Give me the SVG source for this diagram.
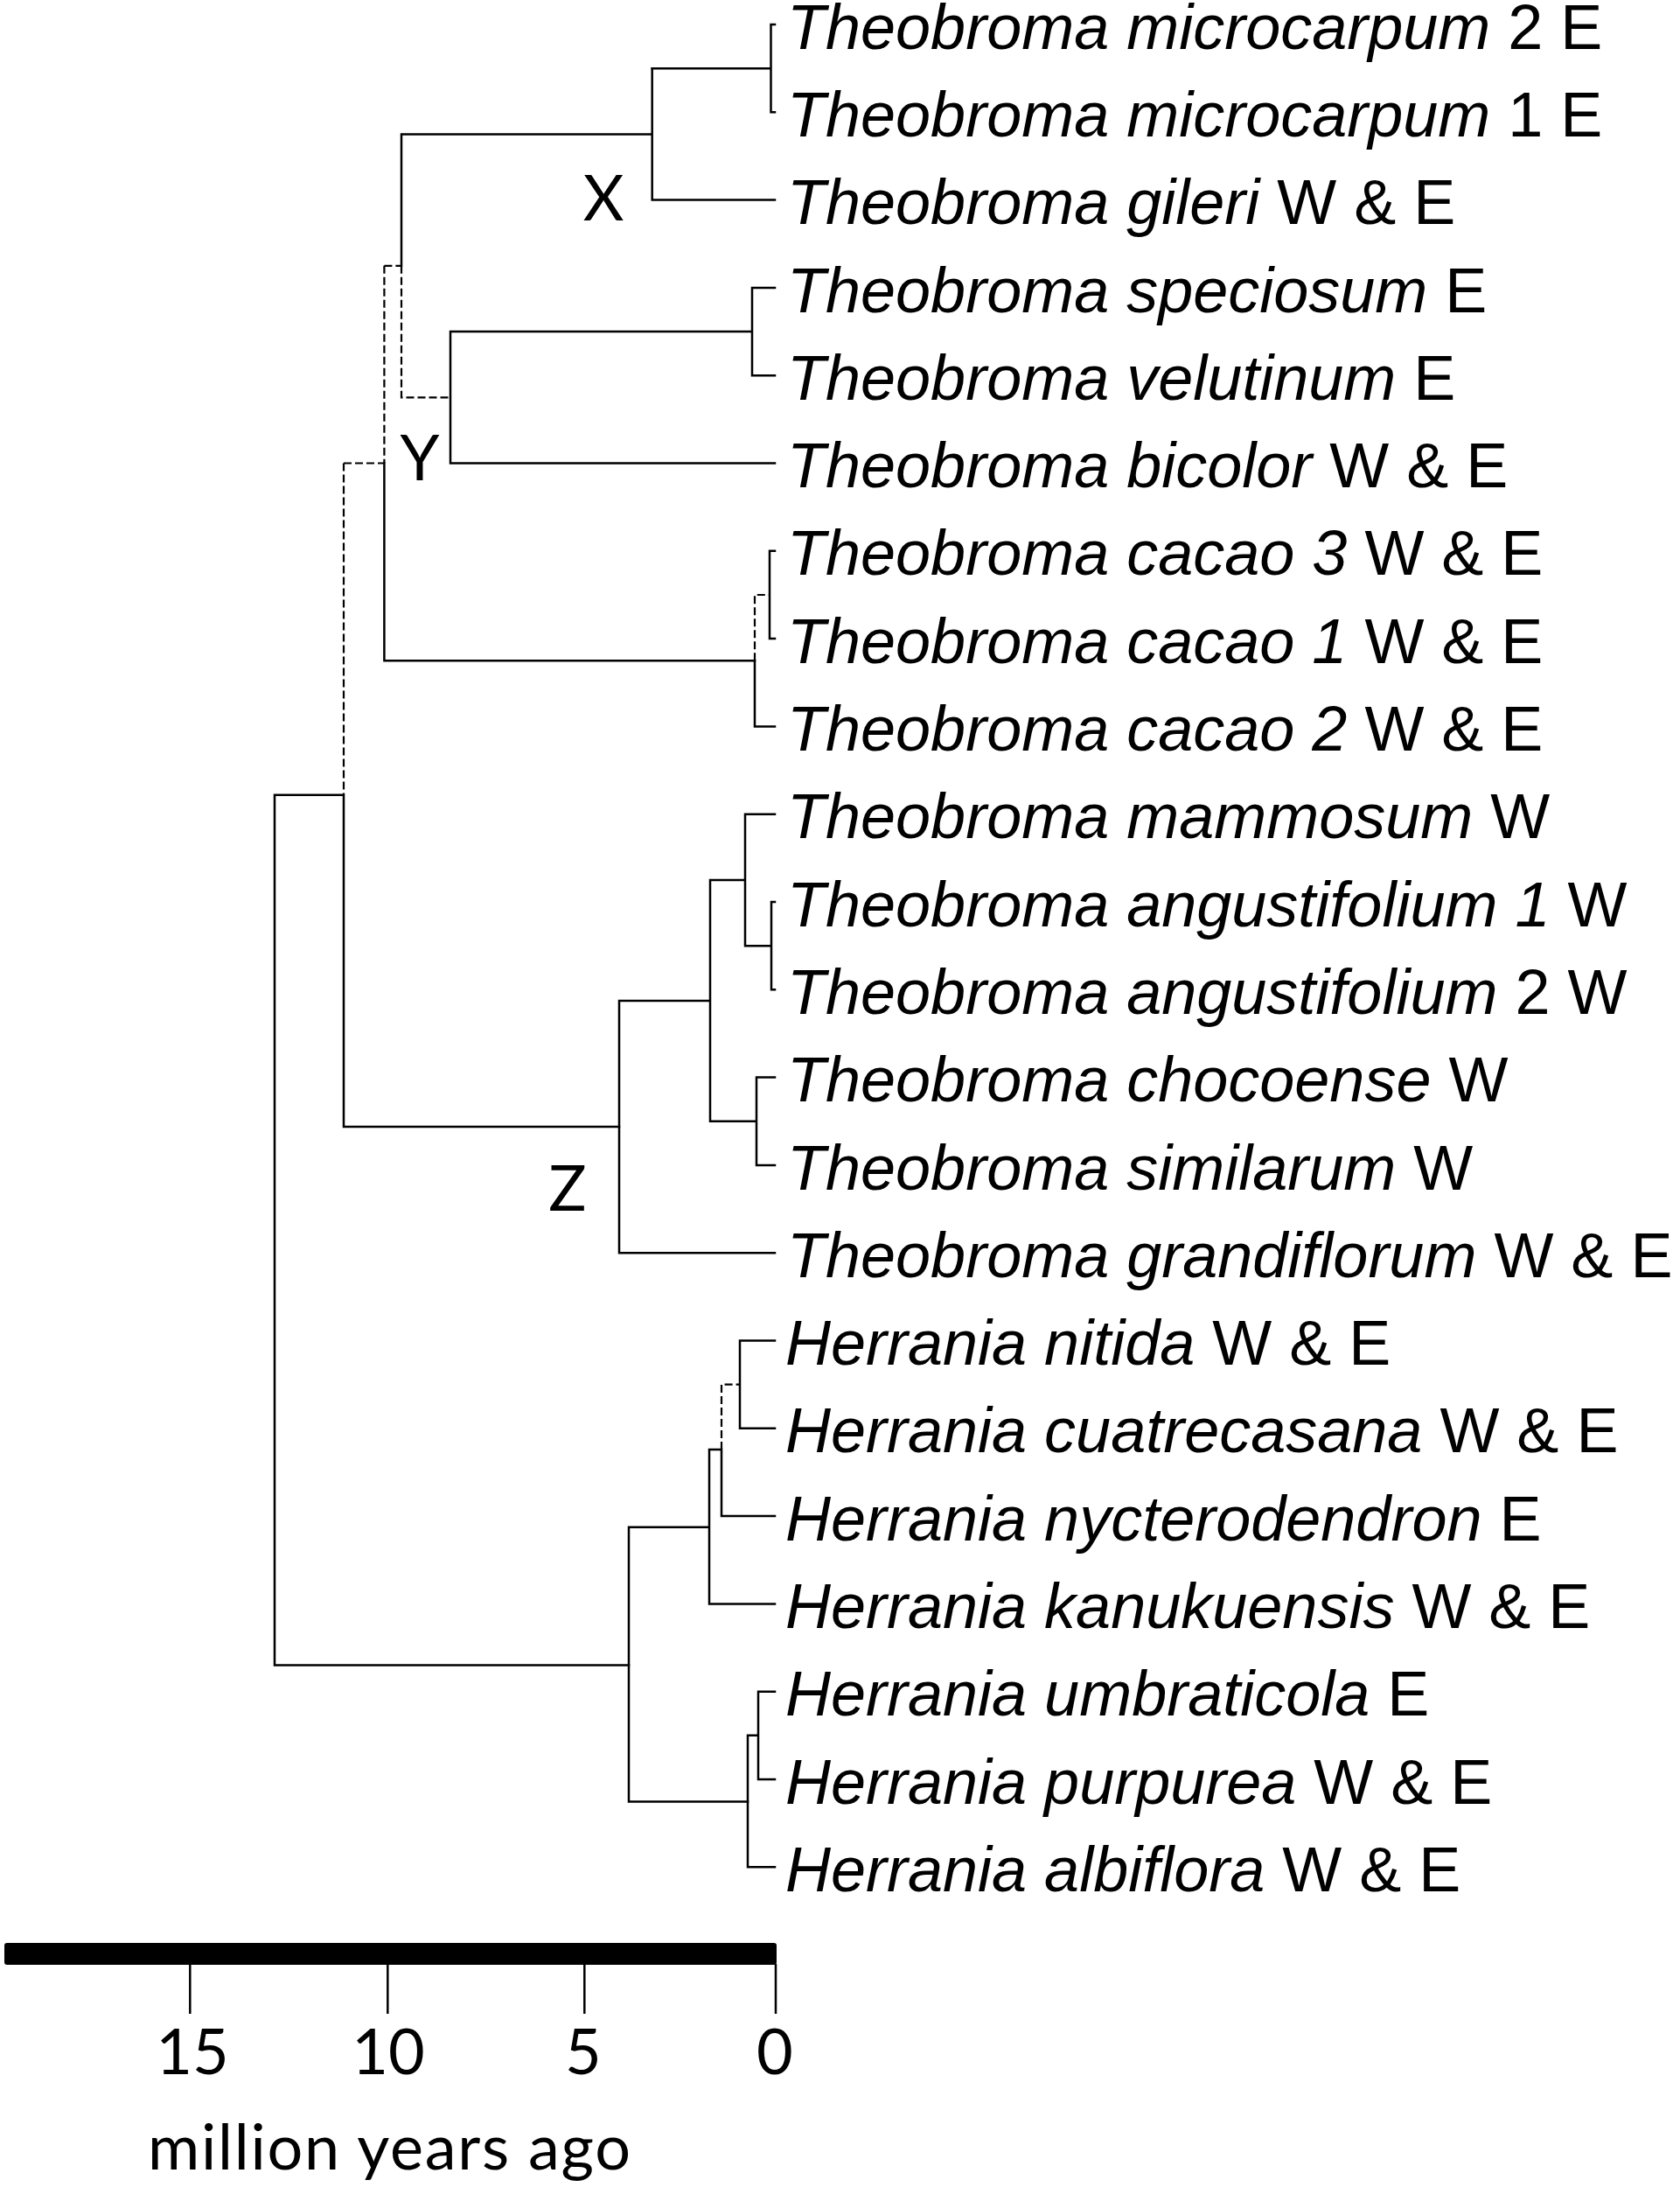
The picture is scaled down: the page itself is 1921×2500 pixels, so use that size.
<svg xmlns="http://www.w3.org/2000/svg" width="1921" height="2500" viewBox="0 0 1921 2500">
<style>
.br{fill:none;stroke:#000;stroke-width:2.5;stroke-linecap:square}
.dbr{fill:none;stroke:#000;stroke-width:2.2;stroke-dasharray:9 4}
.sp{font-family:"Liberation Sans",Arial,sans-serif;font-size:72px;fill:#000}
.i{font-style:italic}
.lab{font-family:Lato,"Open Sans","Liberation Sans",sans-serif;font-size:72px;fill:#000;text-anchor:middle}
.tk{stroke:#000;stroke-width:2.5}
</style>
<rect width="1921" height="2500" fill="#fff"/>
<g id="connectors">
<path class="br" d="M886,28 H881.5 V128.3 H886 M745.7,78.2 H881.5"/>
<path class="br" d="M745.7,78.2 V228.6 H886 M459,153.4 H745.7 M459,153.4 V303.8"/>
<path class="dbr" d="M459,303.8 V454.3 H515"/>
<path class="br" d="M515,379 V529.5 H886 M515,379 H860 M886,328.9 H860 V429.2 H886"/>
<path class="dbr" d="M439.4,303.8 H459 M439.4,303.8 V529.5"/>
<path class="br" d="M439.4,529.5 V755.2 H863"/>
<path class="dbr" d="M863,755.2 V680 H880"/>
<path class="br" d="M863,755.2 V830.4 H886 M886,629.8 H880 V730.1 H886"/>
<path class="dbr" d="M393,529.5 H439.4 M393,529.5 V908.7"/>
<path class="br" d="M314,908.7 H393 V1288 H708 M314,908.7 V1903.5 H719"/>
<path class="br" d="M708,1144 V1432.2 H886 M708,1144 H812 M812,1006 V1281.7 H865 M812,1006 H852 M886,930.7 H852 V1081.2 H882 M886,1031 H882 V1131.3 H886 M886,1231.6 H865 V1331.9 H886"/>
<path class="br" d="M719,1745.7 V2059.5 H855 M719,1745.7 H811 M811,1657 V1833.4 H886 M811,1657 H825 V1733.1 H886"/>
<path class="dbr" d="M825,1657 V1582.6 H846"/>
<path class="br" d="M886,1532.5 H846 V1632.8 H886 M855,1983.8 V2134.3 H886 M855,1983.8 H867 M886,1933.7 H867 V2034 H886"/>
</g>
<g id="clade-labels">
<text class="lab" x="690" y="252">X</text>
<text class="lab" x="480" y="549">Y</text>
<text class="lab" x="649" y="1384">Z</text>
</g>
<g id="t-microcarpum2"><text class="sp" x="900" y="55.6"><tspan class="i">Theobroma microcarpum</tspan> 2 E</text></g>
<g id="t-microcarpum1"><text class="sp" x="900" y="155.9"><tspan class="i">Theobroma microcarpum</tspan> 1 E</text></g>
<g id="t-gileri"><text class="sp" x="900" y="256.2"><tspan class="i">Theobroma gileri</tspan> W &amp; E</text></g>
<g id="t-speciosum"><text class="sp" x="900" y="356.5"><tspan class="i">Theobroma speciosum</tspan> E</text></g>
<g id="t-velutinum"><text class="sp" x="900" y="456.8"><tspan class="i">Theobroma velutinum</tspan> E</text></g>
<g id="t-bicolor"><text class="sp" x="900" y="557.1"><tspan class="i">Theobroma bicolor</tspan> W &amp; E</text></g>
<g id="t-cacao3"><text class="sp" x="900" y="657.4"><tspan class="i">Theobroma cacao 3</tspan> W &amp; E</text></g>
<g id="t-cacao1"><text class="sp" x="900" y="757.7"><tspan class="i">Theobroma cacao 1</tspan> W &amp; E</text></g>
<g id="t-cacao2"><text class="sp" x="900" y="858"><tspan class="i">Theobroma cacao 2</tspan> W &amp; E</text></g>
<g id="t-mammosum"><text class="sp" x="900" y="958.3"><tspan class="i">Theobroma mammosum</tspan> W</text></g>
<g id="t-angustifolium1"><text class="sp" x="900" y="1058.6"><tspan class="i">Theobroma angustifolium 1</tspan> W</text></g>
<g id="t-angustifolium2"><text class="sp" x="900" y="1158.9"><tspan class="i">Theobroma angustifolium</tspan> 2 W</text></g>
<g id="t-chocoense"><text class="sp" x="900" y="1259.2"><tspan class="i">Theobroma chocoense</tspan> W</text></g>
<g id="t-similarum"><text class="sp" x="900" y="1359.5"><tspan class="i">Theobroma similarum</tspan> W</text></g>
<g id="t-grandiflorum"><text class="sp" x="900" y="1459.8"><tspan class="i">Theobroma grandiflorum</tspan> W &amp; E</text></g>
<g id="h-nitida"><text class="sp" x="898" y="1560.1"><tspan class="i">Herrania nitida</tspan> W &amp; E</text></g>
<g id="h-cuatrecasana"><text class="sp" x="898" y="1660.4"><tspan class="i">Herrania cuatrecasana</tspan> W &amp; E</text></g>
<g id="h-nycterodendron"><text class="sp" x="898" y="1760.7"><tspan class="i">Herrania nycterodendron</tspan> E</text></g>
<g id="h-kanukuensis"><text class="sp" x="898" y="1861"><tspan class="i">Herrania kanukuensis</tspan> W &amp; E</text></g>
<g id="h-umbraticola"><text class="sp" x="898" y="1961.3"><tspan class="i">Herrania umbraticola</tspan> E</text></g>
<g id="h-purpurea"><text class="sp" x="898" y="2061.6"><tspan class="i">Herrania purpurea</tspan> W &amp; E</text></g>
<g id="h-albiflora"><text class="sp" x="898" y="2161.9"><tspan class="i">Herrania albiflora</tspan> W &amp; E</text></g>
<g id="scale-bar">
<rect x="5" y="2221" width="883" height="25" rx="3" fill="#000"/>
<line class="tk" x1="217.3" y1="2245" x2="217.3" y2="2302"/>
<line class="tk" x1="443.3" y1="2245" x2="443.3" y2="2302"/>
<line class="tk" x1="668.3" y1="2245" x2="668.3" y2="2302"/>
<line class="tk" x1="887" y1="2245" x2="887" y2="2302"/>
<text class="lab" x="220" y="2371">15</text>
<text class="lab" x="444" y="2371">10</text>
<text class="lab" x="667" y="2371">5</text>
<text class="lab" x="886" y="2371">0</text>
<text class="lab" x="445" y="2480" textLength="552">million years ago</text>
</g>
</svg>
